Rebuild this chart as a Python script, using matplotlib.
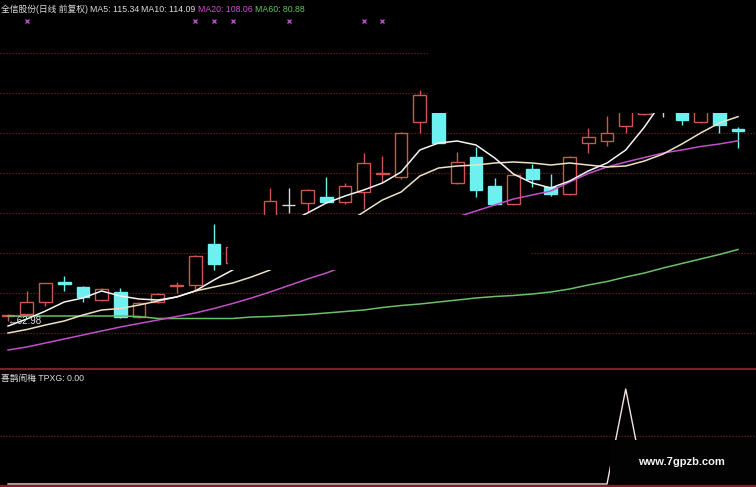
import numpy as np
import matplotlib
matplotlib.use("Agg")
import matplotlib.pyplot as plt
from matplotlib.patches import Rectangle
from matplotlib.lines import Line2D
import matplotlib.transforms as mtransforms

nan = np.nan

# ---- daily candles, oldest first (forward-adjusted prices) ----
opens = [64.25, 64.75, 67.75, 72.75, 71.5, 68.25, 70.25, 64.0, 67.75, 71.8,
         72.0, 82.25, 77.5, nan, 89.0, 92.0, 92.5, 94.0, 92.75, 95.25,
         99.75, 99.0, 112.75, 115.5, 97.5, 104.0, 96.75, 92.25, 101.0, 96.5,
         94.75, 107.5, 108.0, 111.75, 114.75, 117.0, 117.25, 112.75, 117.25, 111.0]
highs = [64.75, 70.5, 72.6, 74.25, 71.75, 71.25, 71.25, 67.75, 70.0, 72.75,
         79.5, 87.25, 82.0, nan, 96.25, 96.25, 96.0, 99.0, 97.5, 105.0,
         104.25, 110.25, 120.75, 116.0, 105.25, 106.5, 98.75, 99.75, 102.25, 99.75,
         104.25, 111.25, 114.25, 118.25, 119.0, 118.25, 118.25, 118.25, 118.25, 111.5]
lows = [62.98, 64.5, 66.75, 70.5, 67.75, 68.0, 63.75, 63.75, 67.5, 70.0,
        70.75, 75.75, 76.75, nan, 88.75, 90.0, 90.25, 92.5, 92.25, 91.0,
        97.75, 98.5, 110.0, 107.5, 97.25, 94.0, 92.0, 92.0, 96.5, 94.25,
        94.5, 105.0, 106.75, 110.0, 114.6, 114.0, 112.0, 112.5, 110.0, 106.25]
closes = [64.5, 67.75, 72.5, 72.25, 69.0, 71.0, 64.0, 67.5, 69.75, 72.1,
          79.25, 77.25, 81.5, nan, 93.0, 92.0, 95.75, 92.75, 96.75, 102.5,
          100.1, 110.0, 119.5, 107.5, 102.75, 95.75, 92.25, 99.5, 98.5, 94.75,
          104.0, 109.0, 110.0, 117.0, 118.25, 117.0, 113.25, 117.0, 112.0, 110.5]

# ---- moving averages ----
ma5 = [61.75, 63.5, 65.5, 67.75, 68.75, 70.5, 69.25, 68.5, 68.25, 69.0,
       70.5, 73.25, 75.75, nan, nan, 87.75, 90.0, 92.5, 94.25, 95.75,
       97.5, 100.25, 105.75, 107.5, 108.0, 107.0, 103.75, 99.75, 97.5, 96.25,
       98.0, 100.5, 102.5, 105.75, 111.5, 118.25, 118.0, 117.25, 116.25, 115.34]
ma10 = [60.0, 60.875, 62.0, 63.0, 64.5, 65.75, 66.125, 67.0, 68.0, 69.0,
        70.5, 71.5, 72.5, 74.0, 75.75, nan, nan, nan, 87.25, 90.25,
        93.25, 95.25, 99.25, 101.25, 101.75, 102.0, 102.5, 102.75, 102.5, 102.0,
        102.5, 102.0, 101.5, 101.75, 103.0, 104.75, 107.25, 110.0, 112.5, 114.09]
ma20 = [55.75, 56.5, 57.5, 58.5, 59.5, 60.5, 61.5, 62.375, 63.25, 64.125,
        65.0, 66.125, 67.375, 68.75, 70.25, 71.875, 73.5, 75.0, 76.75, nan,
        nan, nan, nan, nan, 89.0, 90.5, 92.0, 93.5, 94.5, 95.5,
        97.75, 99.875, 101.5, 102.75, 103.875, 105.0, 105.75, 106.625, 107.25, 108.06]
ma60 = [64.25, 64.25, 64.25, 64.25, 64.25, 64.25, 64.25, 64.125, 63.625, 63.625,
        63.625, 63.625, 63.625, 64.0, 64.125, 64.375, 64.625, 65.0, 65.375, 65.75,
        66.375, 66.875, 67.25, 67.75, 68.25, 68.75, 69.125, 69.375, 69.75, 70.25,
        71.0, 72.0, 72.875, 74.0, 75.0, 76.25, 77.375, 78.5, 79.625, 80.88]

# ---- indicator panel ----
tpxg = [0, 0, 0, 0, 0, 0, 0, 0, 0, 0,
        0, 0, 0, 0, 0, 0, 0, 0, 0, 0,
        0, 0, 0, 0, 0, 0, 0, 0, 0, 0,
        0, 0, 0, 1, 0, 0, 0, 0, 0, 0]
signal_days = [1, 10, 11, 12, 15, 19, 20]

stock_title = "全信股份(日线 前复权)"
indicator_name = "喜鹊闹梅"
watermark = "www.7gpzb.com"
price_grid = [60, 70, 80, 90, 100, 110, 120, 130]
tpxg_grid = [0.5]

# ---- styling ----
BG = "#000000"
UP = "#cf5550"
DOWN = "#6ef0f0"
FLAT = "#d8d8d8"
GRID = "#6e2424"
BORDER = "#7c1f28"
C_MA5 = "#f4f4f4"
C_MA10 = "#ece2c2"
C_MA20 = "#c24ec8"
C_MA60 = "#6cbf6a"
TXT = "#dedede"
FS = 6.3

plt.rcParams["font.family"] = ["Liberation Sans", "Noto Sans CJK SC", "DejaVu Sans"]

W, H = 756, 487
fig = plt.figure(figsize=(W / 100, H / 100), dpi=100, facecolor=BG)

main_bottom = 368
ax = fig.add_axes([0, 1 - main_bottom / H, 1, main_bottom / H], facecolor=BG)
low_top = 370
ax2 = fig.add_axes([0, 0, 1, (H - low_top) / H], facecolor=BG)

x = np.arange(len(opens))
for a in (ax, ax2):
    a.set_xlim(-0.43, 39.96)
    a.set_xticks([])
    a.set_yticks([])
    for s in a.spines.values():
        s.set_visible(False)

ax.set_ylim(51.25, 143.25)
ax2.set_ylim(-0.0316, 1.2)

# dotted horizontal grid
ax.hlines(price_grid, -0.43, 39.96, colors=GRID, linestyles=(0, (1, 1.4)),
          lw=0.9, zorder=1)
ax2.hlines(tpxg_grid, -0.43, 39.96, colors=GRID, linestyles=(0, (1, 1.4)),
           lw=0.9, zorder=1)

# candlesticks
w = 0.68
for i in x:
    o, h, l, c = opens[i], highs[i], lows[i], closes[i]
    if np.isnan(o):
        continue
    if c > o:
        col, face = UP, BG
    elif c < o:
        col, face = DOWN, DOWN
    else:
        col, face = FLAT, FLAT
    ax.vlines(i, l, h, color=col, lw=1.0, zorder=2)
    ax.add_patch(Rectangle((i - w / 2, min(o, c)), w, abs(c - o),
                           facecolor=face, edgecolor=col, lw=1.0, zorder=2.5))

# moving averages
ax.plot(x, ma60, color=C_MA60, lw=1.1, zorder=3)
ax.plot(x, ma20, color=C_MA20, lw=1.1, zorder=3)
ax.plot(x, ma10, color=C_MA10, lw=1.1, zorder=3)
ax.plot(x, ma5, color=C_MA5, lw=1.1, zorder=3)

# blanked-out areas of the screen capture
ax.add_patch(Rectangle((11.75, 75.75), 27.88 - 11.75, 89.5 - 75.75,
                       facecolor=BG, edgecolor="none", zorder=4))
ax.add_patch(Rectangle((22.44, 115.0), 40 - 22.44, 150 - 115.0,
                       facecolor=BG, edgecolor="none", zorder=4))

# signal markers along the top
sig_tr = mtransforms.blended_transform_factory(ax.transData, ax.transAxes)
ax.plot(signal_days, [1 - 20.5 / main_bottom] * len(signal_days), ls="none",
        marker="x", ms=3.5, mew=1.0, color="#b24cc2", transform=sig_tr, zorder=5)

# low price marker
lo_i = int(np.nanargmin(lows))
ax.text(lo_i - 0.08, np.nanmin(lows) - 0.1, f"←{np.nanmin(lows):.2f}",
        color=TXT, fontsize=7.0, ha="left", va="center", zorder=5)

# header line
ty = 1 - 9.5 / main_bottom
ax.text(1 / W, ty, stock_title, transform=ax.transAxes, color=TXT,
        fontsize=FS, ha="left", va="center", zorder=5)
ax.text(90 / W, ty, f"MA5: {ma5[-1]:.2f}", transform=ax.transAxes, color=TXT,
        fontsize=FS, ha="left", va="center", zorder=5)
ax.text(141 / W, ty, f"MA10: {ma10[-1]:.2f}", transform=ax.transAxes, color=TXT,
        fontsize=FS, ha="left", va="center", zorder=5)
ax.text(198 / W, ty, f"MA20: {ma20[-1]:.2f}", transform=ax.transAxes, color="#d24cd6",
        fontsize=FS, ha="left", va="center", zorder=5)
ax.text(255 / W, ty, f"MA60: {ma60[-1]:.2f}", transform=ax.transAxes, color="#62c65e",
        fontsize=FS, ha="left", va="center", zorder=5)

# indicator panel
ax2.plot(x, tpxg, color="#f2e2e2", lw=1.0, zorder=3)
ax2.add_patch(Rectangle((32.16, -0.016), 40 - 32.16, 0.463 + 0.016,
                        facecolor="#020202", edgecolor="none", zorder=4))
ax2.text(1 / W, (H - 378) / (H - low_top), f"{indicator_name} TPXG: {tpxg[-1]:.2f}",
         transform=ax2.transAxes, color=TXT, fontsize=FS, ha="left", va="center",
         zorder=5)
ax2.text(638 / W, (H - 462) / (H - low_top), watermark, transform=ax2.transAxes,
         color="#f4f4f4", fontsize=8.0, fontweight="bold", ha="left", va="center",
         zorder=5)

# panel borders
fig.add_artist(Line2D([0, 1], [1 - 368.5 / H] * 2, color=BORDER, lw=1.6))
fig.add_artist(Line2D([0, 1], [1 - 486 / H] * 2, color=BORDER, lw=1.6))

fig.savefig("out.png", dpi=100, facecolor=BG)
